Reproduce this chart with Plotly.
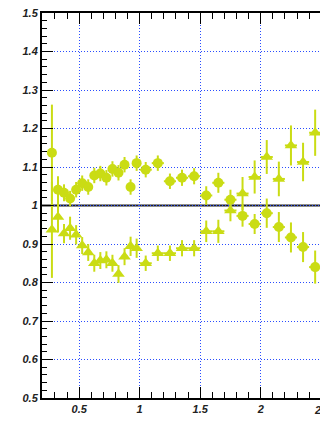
import plotly.graph_objects as go

# bin centres and half widths
x_centers = [0.275, 0.325, 0.375, 0.425, 0.475, 0.525, 0.575, 0.625, 0.675, 0.725,
             0.775, 0.825, 0.875, 0.925, 0.975, 1.05, 1.15, 1.25, 1.35, 1.45,
             1.55, 1.65, 1.75, 1.85, 1.95, 2.05, 2.15, 2.25, 2.35, 2.45]
x_half = [0.025] * 15 + [0.05] * 15

circle_vals = [1.137, 1.041, 1.033, 1.018, 1.041, 1.058, 1.048, 1.078, 1.083, 1.072,
               1.095, 1.085, 1.106, 1.048, 1.110, 1.093, 1.110, 1.063, 1.072, 1.076,
               1.026, 1.059, 1.015, 0.973, 0.952, 0.980, 0.944, 0.917, 0.892, 0.840]
circle_errs = [0.125, 0.035, 0.022, 0.02, 0.02, 0.02, 0.02, 0.02, 0.02, 0.02,
               0.02, 0.02, 0.02, 0.02, 0.02, 0.02, 0.02, 0.02, 0.021, 0.021,
               0.024, 0.026, 0.026, 0.028, 0.026, 0.038, 0.039, 0.039, 0.039, 0.043]

tri_vals = [0.937, 0.970, 0.927, 0.941, 0.924, 0.896, 0.878, 0.850, 0.857, 0.859,
            0.850, 0.822, 0.867, 0.894, 0.889, 0.850, 0.876, 0.876, 0.889, 0.889,
            0.933, 0.933, 0.987, 1.031, 1.074, 1.126, 1.069, 1.156, 1.113, 1.189]
tri_errs = [0.125, 0.04, 0.025, 0.03, 0.025, 0.022, 0.022, 0.022, 0.022, 0.022,
            0.022, 0.023, 0.022, 0.025, 0.025, 0.02, 0.02, 0.02, 0.021, 0.021,
            0.028, 0.03, 0.028, 0.043, 0.043, 0.044, 0.045, 0.052, 0.05, 0.06]

x_ticks = [0.5, 1.0, 1.5, 2.0]
x_tick_text = ["0.5", "1", "1.5", "2"]
y_ticks = [0.5, 0.6, 0.7, 0.8, 0.9, 1.0, 1.1, 1.2, 1.3, 1.4, 1.5]
y_tick_text = ["0.5", "0.6", "0.7", "0.8", "0.9", "1", "1.1", "1.2", "1.3", "1.4", "1.5"]

col = "#cadc14"
fig = go.Figure()
for vals, errs, sym, sz in [(circle_vals, circle_errs, "circle", 10), (tri_vals, tri_errs, "triangle-up", 11)]:
    fig.add_trace(go.Scatter(
        x=x_centers, y=vals, mode="markers",
        marker=dict(symbol=sym, size=sz, color=col, line=dict(width=0)),
        error_y=dict(type="data", array=errs, color=col, thickness=2, width=0),
        error_x=dict(type="data", array=x_half, color=col, thickness=2, width=0),
        showlegend=False, cliponaxis=True,
    ))

tickfont = dict(family="Liberation Sans", size=11, color="#222", style="italic", weight="bold")
grid_col = "#2a4dff"
fig.update_layout(
    width=320, height=428,
    margin=dict(l=42, r=0, t=13, b=30),
    paper_bgcolor="white", plot_bgcolor="white",
    xaxis=dict(range=[0.193, 2.49], tickvals=x_ticks, ticktext=x_tick_text,
               showline=True, linewidth=2, linecolor="black", mirror="allticks",
               ticks="inside", ticklen=11, tickwidth=1, tickcolor="black",
               minor=dict(ticks="inside", ticklen=6, tickwidth=1, tickcolor="black",
                          dtick=0.1, tick0=0, showgrid=False),
               showgrid=True, gridcolor=grid_col, griddash="1px,2px", gridwidth=1,
               zeroline=False, tickfont=tickfont),
    yaxis=dict(range=[0.5, 1.5], tickvals=y_ticks, ticktext=y_tick_text,
               showline=True, linewidth=2, linecolor="black", mirror=False,
               ticks="inside", ticklen=11, tickwidth=1, tickcolor="black",
               minor=dict(ticks="inside", ticklen=5, tickwidth=1, tickcolor="black",
                          dtick=0.02, tick0=0, showgrid=False),
               showgrid=True, gridcolor=grid_col, griddash="1px,2px", gridwidth=1,
               zeroline=False, tickfont=tickfont),
    shapes=[dict(type="line", xref="paper", yref="y", x0=0, x1=1, y0=1, y1=1,
                 line=dict(color="#222", width=2), layer="below")],
    annotations=[dict(text="2.5", xref="paper", yref="paper", x=1.008, y=-0.01,
                      yanchor="top", xanchor="center", showarrow=False, font=tickfont)],
)
fig.write_html("out.html")
